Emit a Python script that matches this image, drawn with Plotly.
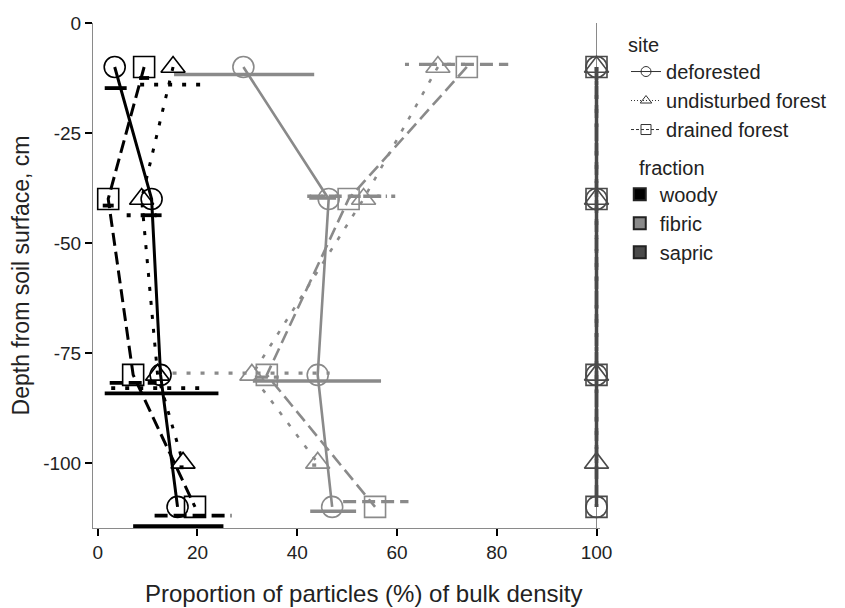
import plotly.graph_objects as go

# ---------------- data ----------------
sites = ["deforested", "undisturbed forest", "drained forest"]
fractions = ["woody", "fibric", "sapric"]

depth_def = [-10, -40, -80, -110]
depth_und = [-10, -40, -80, -100]
depth_dra = [-10, -40, -80, -110]

woody_def = [3.4, 10.8, 12.6, 16.0]
woody_und = [15.1, 8.8, 12.0, 17.1]
woody_dra = [9.3, 2.1, 7.1, 19.5]
fibric_def = [29.2, 46.3, 44.1, 47.0]
fibric_und = [68.2, 53.3, 30.9, 44.1]
fibric_dra = [74.0, 50.3, 33.9, 55.6]
sapric_def = [100, 100, 100, 100]
sapric_und = [100, 100, 100, 100]
sapric_dra = [100, 100, 100, 100]

# horizontal error bars: low, high, depth at which drawn
woody_def_lo = [1.4, 9.0, 1.4, 7.1]
woody_def_hi = [5.8, 12.8, 24.2, 25.2]
woody_def_ey = [-14.8, -43.7, -84.2, -114.4]
woody_und_lo = [8.5, 5.8, 2.7, 16.4]
woody_und_hi = [21.8, 11.8, 22.0, 17.8]
woody_und_ey = [-14.0, -43.7, -83.0, -101.0]
woody_dra_lo = [8.3, 1.0, 2.4, 11.4]
woody_dra_hi = [10.3, 3.2, 11.8, 26.8]
woody_dra_ey = [-12.5, -41.5, -81.8, -112.0]
fibric_def_lo = [15.3, 42.4, 31.1, 42.6]
fibric_def_hi = [43.4, 47.8, 56.8, 51.8]
fibric_def_ey = [-11.7, -39.8, -81.4, -111.0]
fibric_und_lo = [61.6, 42.0, 15.0, 43.0]
fibric_und_hi = [75.0, 60.2, 46.5, 45.2]
fibric_und_ey = [-9.4, -39.4, -79.6, -100.5]
fibric_dra_lo = [65.2, 42.5, 31.5, 49.2]
fibric_dra_hi = [82.3, 58.0, 36.3, 62.3]
fibric_dra_ey = [-9.4, -39.4, -80.5, -108.8]

x_ticks = [0, 20, 40, 60, 80, 100]
y_ticks = [0, -25, -50, -75, -100]
y_ticklabels = ["0", "-25", "-50", "-75", "-100"]

# ---------------- styles ----------------
frac_color = {"woody": "#000000", "fibric": "#8a8a8a", "sapric": "#4a4a4a"}
frac_width = {"woody": 3, "fibric": 2.6, "sapric": 3.5}
site_symbol = {"deforested": "circle-open", "undisturbed forest": "triangle-up-open",
               "drained forest": "square-open"}
site_dash = {"deforested": "solid", "undisturbed forest": "4px,10px",
             "drained forest": "13px,6px"}
site_legend_dash = {"deforested": "solid", "undisturbed forest": "1px,2px",
                    "drained forest": "3px,2px"}

depths = {"deforested": depth_def, "undisturbed forest": depth_und, "drained forest": depth_dra}
values = {
    ("woody", "deforested"): woody_def, ("woody", "undisturbed forest"): woody_und,
    ("woody", "drained forest"): woody_dra,
    ("fibric", "deforested"): fibric_def, ("fibric", "undisturbed forest"): fibric_und,
    ("fibric", "drained forest"): fibric_dra,
    ("sapric", "deforested"): sapric_def, ("sapric", "undisturbed forest"): sapric_und,
    ("sapric", "drained forest"): sapric_dra,
}
errs = {
    ("woody", "deforested"): (woody_def_lo, woody_def_hi, woody_def_ey),
    ("woody", "undisturbed forest"): (woody_und_lo, woody_und_hi, woody_und_ey),
    ("woody", "drained forest"): (woody_dra_lo, woody_dra_hi, woody_dra_ey),
    ("fibric", "deforested"): (fibric_def_lo, fibric_def_hi, fibric_def_ey),
    ("fibric", "undisturbed forest"): (fibric_und_lo, fibric_und_hi, fibric_und_ey),
    ("fibric", "drained forest"): (fibric_dra_lo, fibric_dra_hi, fibric_dra_ey),
}

fig = go.Figure()

# error bars
for (frac, site), (lo, hi, ey) in errs.items():
    xs, ys = [], []
    for a, b, y in zip(lo, hi, ey):
        xs += [a, b, None]
        ys += [y, y, None]
    fig.add_trace(go.Scatter(
        x=xs, y=ys, mode="lines", showlegend=False, hoverinfo="skip",
        line=dict(color=frac_color[frac], width=frac_width[frac] + 0.8, dash=site_dash[site]),
    ))

# profiles
for frac in ["sapric", "fibric", "woody"]:
    for site in sites:
        fig.add_trace(go.Scatter(
            x=values[(frac, site)], y=depths[site], mode="lines+markers",
            showlegend=False, cliponaxis=False,
            line=dict(color=frac_color[frac], width=frac_width[frac], dash=site_dash[site]),
            marker=dict(symbol=site_symbol[site], size=21, color=frac_color[frac],
                        line=dict(width=1.6, color=frac_color[frac])),
        ))

# legend: site
for site in sites:
    fig.add_trace(go.Scatter(
        x=[None], y=[None], mode="lines+markers", name=site, legend="legend",
        line=dict(color="#333333", width=1, dash=site_legend_dash[site]),
        marker=dict(symbol=site_symbol[site], size=10, color="#333333",
                    line=dict(width=1, color="#333333")),
    ))
# legend: fraction
for frac in fractions:
    fig.add_trace(go.Scatter(
        x=[None], y=[None], mode="markers", name=frac, legend="legend2",
        marker=dict(symbol="square", size=15, color=frac_color[frac],
                    line=dict(width=1, color="#222222")),
    ))

fig.add_shape(type="line", xref="x", yref="paper", x0=100, x1=100, y0=0, y1=1,
              line=dict(color="#8a8a8a", width=1), layer="below")

fig.add_annotation(text="Proportion of particles (%) of bulk density",
                   xref="paper", yref="paper", x=0.5345, y=0, xanchor="center",
                   yanchor="top", yshift=-50, showarrow=False,
                   font=dict(size=24, color="#222222"))

font_family = "Arial, Liberation Sans, sans-serif"
fig.update_layout(
    width=845, height=608,
    margin=dict(l=85, r=253, t=15, b=88, autoexpand=False),
    paper_bgcolor="white", plot_bgcolor="white",
    font=dict(family=font_family, size=19, color="#222222"),
    xaxis=dict(
        range=[-0.95, 100.7], tickvals=x_ticks, showgrid=False, zeroline=False,
        showline=True, linecolor="#8a8a8a", linewidth=1, automargin=False,
        ticks="outside", ticklen=7, tickwidth=2, tickcolor="#000000",
        tickfont=dict(size=19, color="#222222"),
    ),
    yaxis=dict(
        range=[-114.8, 0], tickvals=y_ticks, ticktext=y_ticklabels,
        showgrid=False, zeroline=False, automargin=False,
        showline=True, linecolor="#8a8a8a", linewidth=1,
        ticks="outside", ticklen=7, tickwidth=2, tickcolor="#000000",
        tickfont=dict(size=19, color="#222222"),
        title=dict(text="Depth from soil surface, cm", standoff=10, font=dict(size=23)),
    ),
    legend=dict(
        title=dict(text="site", font=dict(size=20), side="top"), x=1.0513,
        xanchor="left", y=0.994, yanchor="top", font=dict(size=20), tracegroupgap=2,
        bgcolor="rgba(0,0,0,0)",
    ),
    legend2=dict(
        title=dict(text="fraction", font=dict(size=20), side="top center"), x=1.039,
        xanchor="left", y=0.751, yanchor="top", font=dict(size=20), tracegroupgap=2,
        bgcolor="rgba(0,0,0,0)", itemsizing="constant",
    ),
)

fig.write_html("out.html")
